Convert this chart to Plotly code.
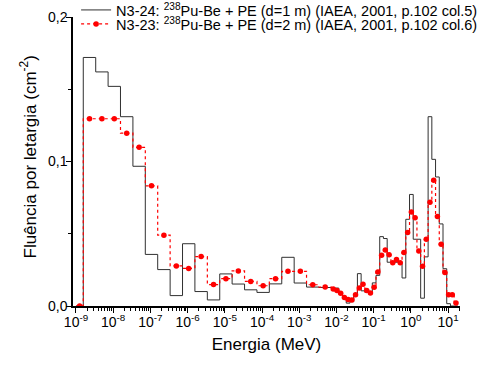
import numpy as np
import plotly.graph_objects as go

# energy group boundaries (MeV), lower edges plus the last upper edge
energy_edges = [
    1.0e-9, 1.57e-9, 3.39e-9, 7.30e-9, 1.57e-8, 3.39e-8, 7.30e-8,
    1.57e-7, 3.39e-7, 7.30e-7, 1.57e-6, 3.39e-6, 7.30e-6,
    1.57e-5, 3.39e-5, 7.30e-5, 1.57e-4, 3.39e-4, 7.30e-4,
    1.57e-3, 3.39e-3, 7.30e-3,
    9.19e-3, 1.156e-2, 1.455e-2, 1.832e-2, 2.307e-2, 2.904e-2, 3.656e-2,
    4.603e-2, 5.794e-2, 7.30e-2, 9.19e-2, 0.1156, 0.1455, 0.1832,
    0.2307, 0.2904, 0.3656, 0.4603, 0.5794, 0.730, 0.919, 1.156,
    1.455, 1.832, 2.307, 2.904, 3.656, 4.603, 5.794, 7.30, 9.19,
    11.56, 14.55, 18.32,
]

# N3-24: 238Pu-Be + PE, d = 1 m (col. 5)
fluence_d1 = [
    0.0,
    0.172, 0.162, 0.152, 0.131, 0.0967, 0.0357, 0.0252, 0.0072, 0.0431, 0.0100,
    0.0042, 0.0222, 0.0152, 0.0112, 0.0094, 0.0153, 0.0337, 0.0159, 0.0131, 0.0128,
    0.0124, 0.0124, 0.0085, 0.0056, 0.0020, 0.0030, 0.0072, 0.0224, 0.0105, 0.0095,
    0.0088, 0.0160, 0.0212, 0.0480, 0.0467, 0.0303, 0.0303, 0.0303, 0.0303, 0.0194,
    0.0600, 0.0772, 0.0462, 0.0462, 0.0054, 0.0340, 0.1310, 0.1015, 0.0893, 0.0568,
    0.0258, 0.0016, 0.0, 0.0,
]

# N3-23: 238Pu-Be + PE, d = 2 m (col. 6)
fluence_d2 = [
    0.0,
    0.1296, 0.1296, 0.1296, 0.1196, 0.1098, 0.0832, 0.0490, 0.0277, 0.0260, 0.0342,
    0.0148, 0.0189, 0.0243, 0.0170, 0.0140, 0.0189, 0.0240, 0.0240, 0.0147, 0.0131,
    0.0117, 0.0107, 0.0089, 0.0058, 0.0045, 0.0042, 0.0077, 0.0124, 0.0150, 0.0108,
    0.0090, 0.0130, 0.0236, 0.0352, 0.0388, 0.0355, 0.0300, 0.0322, 0.0300, 0.0370,
    0.0508, 0.0650, 0.0610, 0.0380, 0.0275, 0.0462, 0.0718, 0.0870, 0.0620, 0.0427,
    0.0231, 0.0077, 0.0077, 0.0020,
]

decades = list(range(-9, 2))
tick_labels = ["10<sup>%d</sup>" % d for d in decades]

label_d1 = "N3-24: <sup>238</sup>Pu-Be + PE (d=1 m) (IAEA, 2001, p.102 col.5)"
label_d2 = "N3-23: <sup>238</sup>Pu-Be + PE (d=2 m) (IAEA, 2001, p.102 col.6)"

edges = np.array(energy_edges)
centers = np.sqrt(edges[:-1] * edges[1:])

fig = go.Figure()

# black histogram (d = 1 m)
fig.add_trace(go.Scatter(
    x=energy_edges, y=fluence_d1 + [fluence_d1[-1]],
    mode="lines", line=dict(color="#303030", width=1, shape="hv"),
    name=label_d1, legend="legend",
))

# red dotted histogram with points (d = 2 m)
fig.add_trace(go.Scatter(
    x=energy_edges, y=fluence_d2 + [fluence_d2[-1]],
    mode="lines", line=dict(color="#ff0000", width=1.2, dash="dot", shape="hv"),
    showlegend=False,
))
fig.add_trace(go.Scatter(
    x=centers, y=fluence_d2,
    mode="markers", marker=dict(color="#ff0000", size=5.5),
    showlegend=False,
))
# legend entry for the red series
fig.add_trace(go.Scatter(
    x=[None], y=[None], mode="lines+markers",
    line=dict(color="#ff0000", width=1.2, dash="dot"),
    marker=dict(color="#ff0000", size=5.5),
    name=label_d2, legend="legend2",
))

minor_vals = [m * 10.0 ** d for d in decades for m in range(2, 10) if m * 10.0 ** d < 21]

leg = dict(xref="container", yref="container", xanchor="left", yanchor="middle",
           bgcolor="rgba(0,0,0,0)", font=dict(size=14.5), itemwidth=30,
           borderwidth=0)

fig.update_layout(
    width=491, height=365,
    margin=dict(l=73, r=31, t=17, b=59, autoexpand=False),
    paper_bgcolor="white", plot_bgcolor="white",
    font=dict(family="Liberation Sans, Arial, sans-serif", size=13, color="black"),
    separators=", ",
    showlegend=True,
    legend=dict(leg, x=0.155, y=1 - 10 / 365),
    legend2=dict(leg, x=0.155, y=1 - 24 / 365),
)

# y axis title as a rotated annotation
fig.add_annotation(
    text="Fluência por letargia (cm<sup>-2</sup>)",
    xref="paper", yref="paper", x=0, y=0.5, xanchor="center", yanchor="middle",
    xshift=-45, yshift=4, textangle=-90, showarrow=False,
    font=dict(size=17),
)

fig.update_xaxes(
    type="log", range=[-9.08, 1.32],
    tickvals=[10.0 ** d for d in decades], ticktext=tick_labels,
    ticks="outside", ticklen=5, tickcolor="black", ticklabelstandoff=-3,
    minor=dict(tickvals=minor_vals, ticks="outside", ticklen=3, tickcolor="black"),
    showline=True, linecolor="black", linewidth=1.5,
    showgrid=False, zeroline=False,
    tickfont=dict(size=14),
    title=dict(text="Energia (MeV)", font=dict(size=17), standoff=10),
)
fig.update_yaxes(
    range=[0, 0.2],
    tickvals=[0, 0.1, 0.2], tickformat=".1f",
    ticks="outside", ticklen=5, tickcolor="black", ticklabelstandoff=-4,
    minor=dict(tickvals=[0.05, 0.15], ticks="outside", ticklen=3, tickcolor="black"),
    showline=True, linecolor="black", linewidth=1.5,
    showgrid=False, zeroline=False,
    tickfont=dict(size=14),
)

# page body has a default 8px margin; drop it so the figure sits at the window corner
fig.write_html("out.html", config={"displayModeBar": False},
               post_script="document.body.style.margin='0';")
